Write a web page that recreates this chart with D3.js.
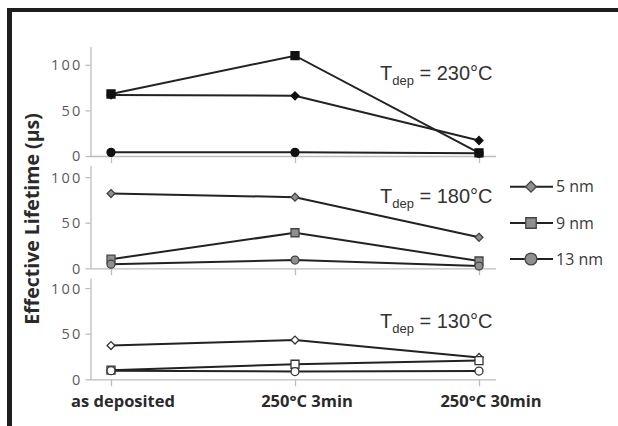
<!DOCTYPE html>
<html>
<head>
<meta charset="utf-8">
<script src="https://cdn.jsdelivr.net/npm/d3@7.9.0/dist/d3.min.js"></script>
<style>
  body { margin: 0; background: #fff; }
  svg { display: block; }
</style>
</head>
<body>
<svg id="chart" width="618" height="426"></svg>
<script>
// categories and series
const categories = ["as deposited", "250°C 3min", "250°C 30min"];
const sizes = ["5 nm", "9 nm", "13 nm"];
const temps = ["230°C", "180°C", "130°C"];
const yTicks = [0, 50, 100];

// values (µs)
const t230_5nm = [67, 66, 17];
const t230_9nm = [68, 110, 3.5];
const t230_13nm = [4, 4, 3];
const t180_5nm = [82, 78, 34];
const t180_9nm = [10, 39, 8];
const t180_13nm = [4.5, 9, 2.5];
const t130_5nm = [37, 43, 24];
const t130_9nm = [10, 16.5, 20.5];
const t130_13nm = [9.5, 8.5, 9];

const panels = [
  { temp: temps[0], series: [t230_5nm, t230_9nm, t230_13nm], y0: 156, top: 120, fill: "#111", stroke: "#111" },
  { temp: temps[1], series: [t180_5nm, t180_9nm, t180_13nm], y0: 268.3, top: 113, fill: "#8f8f8f", stroke: "#444" },
  { temp: temps[2], series: [t130_5nm, t130_9nm, t130_13nm], y0: 379.3, top: 111, fill: "#fff", stroke: "#333" }
];

const symbols = [d3.symbolDiamond2, d3.symbolSquare, d3.symbolCircle];
const symSize = [40, 64, 50];

const svg = d3.select("#chart");

// frame (top and left only)
svg.append("rect").attr("x", 7).attr("y", 8).attr("width", 611).attr("height", 4).attr("fill", "#1e1e1e");
svg.append("rect").attr("x", 7).attr("y", 8).attr("width", 5).attr("height", 418).attr("fill", "#1e1e1e");

const x = d3.scalePoint().domain(categories).range([111, 479]);
const unit = 0.912;

panels.forEach((p, pi) => {
  const y = d3.scaleLinear().domain([0, p.top]).range([p.y0, p.y0 - p.top * unit]);
  const g = svg.append("g");

  // y axis
  const ya = g.append("g").attr("transform", "translate(90.5,0)")
    .call(d3.axisLeft(y).tickValues(yTicks).tickSize(5).tickSizeOuter(0).tickPadding(3));
  ya.select(".domain").attr("stroke", "#bdbdbd").attr("stroke-width", 1.3);
  ya.selectAll(".tick line").attr("stroke", "#bdbdbd").attr("stroke-width", 1.3);
  ya.selectAll(".tick text")
    .attr("fill", "#5a5a5a").attr("font-family", "Open Sans").attr("font-size", 14.5)
    .attr("letter-spacing", 2.2).attr("dy", "0.34em");

  // x axis
  const xa = g.append("g").attr("transform", `translate(0,${p.y0})`)
    .call(d3.axisBottom(x).tickSize(7).tickSizeOuter(0).tickFormat(""));
  xa.select(".domain").attr("d", "M90,0.5H496").attr("stroke", "#bdbdbd").attr("stroke-width", 1.3);
  xa.selectAll(".tick line").attr("stroke", "#bdbdbd").attr("stroke-width", 1.3);

  // series lines + markers
  p.series.forEach((vals, si) => {
    const pts = vals.map((v, i) => [x(categories[i]), y(v)]);
    g.append("path")
      .attr("d", d3.line()(pts))
      .attr("fill", "none").attr("stroke", "#222").attr("stroke-width", 2);
    g.selectAll(null).data(pts).enter().append("path")
      .attr("transform", d => `translate(${d[0]},${d[1]})`)
      .attr("d", d3.symbol().type(symbols[si]).size(symSize[si]))
      .attr("fill", p.fill).attr("stroke", p.stroke).attr("stroke-width", 1.3);
  });

  // annotation
  const ann = [80, 202.7, 328][pi];
  const t = g.append("text").attr("x", 380).attr("y", ann)
    .attr("font-family", "Liberation Sans").attr("font-size", 20).attr("fill", "#333");
  t.append("tspan").text("T");
  t.append("tspan").attr("font-size", 13).attr("dy", 5).text("dep");
  t.append("tspan").attr("dy", -5).text(" = " + p.temp);
});

// x category labels
svg.selectAll(".xlab").data(categories).enter().append("text")
  .attr("x", d => x(d) + 12).attr("y", 407)
  .attr("text-anchor", "middle")
  .attr("font-family", "Open Sans").attr("font-weight", "bold").attr("font-size", 16.5)
  .attr("fill", "#2a2a2a").text(d => d);

// y title
svg.append("text")
  .attr("transform", "translate(39,219) rotate(-90)")
  .attr("text-anchor", "middle")
  .attr("font-family", "Open Sans").attr("font-weight", "bold").attr("font-size", 19.5)
  .attr("fill", "#2a2a2a").text("Effective Lifetime (µs)");

// legend
const legY = [186.7, 223, 259];
const leg = svg.selectAll(".leg").data(sizes).enter().append("g")
  .attr("transform", (d, i) => `translate(0,${legY[i]})`);
leg.append("line").attr("x1", 510).attr("x2", 553).attr("stroke", "#222").attr("stroke-width", 2);
leg.append("path")
  .attr("transform", "translate(531,0)")
  .attr("d", (d, i) => d3.symbol().type(symbols[i]).size([75, 110, 110][i])())
  .attr("fill", "#8f8f8f").attr("stroke", "#444").attr("stroke-width", 1.3);
leg.append("text").attr("x", 556).attr("dy", "0.36em")
  .attr("font-family", "Open Sans").attr("font-size", 16).attr("fill", "#3a3a3a")
  .text(d => d);
</script>
</body>
</html>
